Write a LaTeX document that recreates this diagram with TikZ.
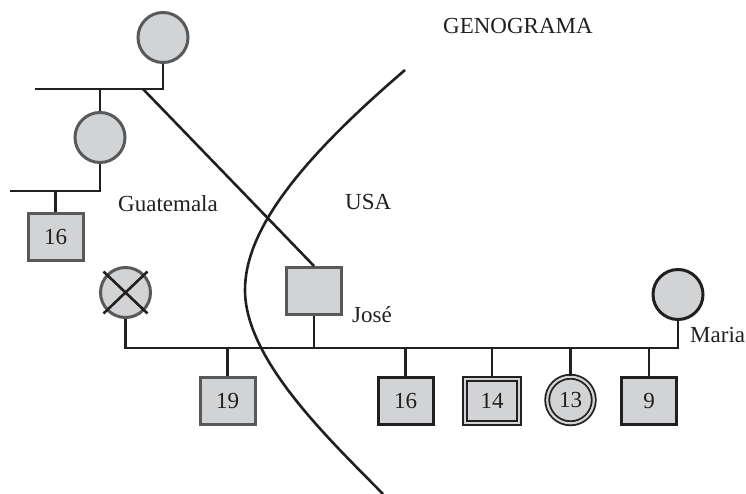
\documentclass[tikz,border=0pt]{standalone}
\usepackage{fontspec}
\setmainfont{Liberation Serif}
\definecolor{shapeFill}{HTML}{D1D3D4}
\definecolor{borderGrey}{HTML}{58595B}
\definecolor{inkDark}{HTML}{231F20}

\begin{document}
\begin{tikzpicture}
[x=1pt,y=-1pt,font=\fontsize{23}{27}\selectfont,text=inkDark,
  personDecorate/.style={inner sep=0pt,fill=shapeFill,line width=3pt},%
  maleDecorate/.style={personDecorate,shape=rectangle,minimum width=55pt,minimum height=47pt},%
  femaleDecorate/.style={personDecorate,shape=circle,minimum size=50pt},%
  maleGrey/.style={maleDecorate,draw=borderGrey},%
  maleBlack/.style={maleDecorate,draw=inkDark},%
  maleTwin/.style={maleDecorate,draw=inkDark,line width=1.8pt,double=shapeFill,double distance=2.2pt,minimum width=54pt,minimum height=44pt},%
  femaleGrey/.style={femaleDecorate,draw=borderGrey},%
  femaleBlack/.style={femaleDecorate,draw=inkDark},%
  femaleTwin/.style={femaleDecorate,draw=inkDark,line width=1.8pt,double=shapeFill,double distance=2.2pt,minimum size=46.6pt},%
  lineDecorate/.style={-,line width=2.6pt,draw=inkDark},%
  labelDecorate/.style={anchor=base west,inner sep=0pt}]
\useasboundingbox (0,0) rectangle (746,494);
%% border between the two countries
\draw[lineDecorate] (405,70) .. controls (300,160) and (245,230) .. (245,290)
  .. controls (245,360) and (330,440) .. (383,494);
%% persons
\foreach \nodename/\x/\y/\kind/\age in {
  gm/163/37.5/femaleGrey/{},  mo/100/137.5/femaleGrey/{},
  s16/55.5/237/maleGrey/16,   xw/125.5/292.5/femaleGrey/{},
  jose/314/291/maleGrey/{},   maria/678/294.5/femaleBlack/{},
  c19/227.5/401/maleGrey/19,  c16/405.5/401/maleBlack/16,
  c14/492/401/maleTwin/14,    c13/570.5/400/femaleTwin/13,
  c9/649/401/maleBlack/9}
{
  \node (\nodename) at (\x,\y) [\kind] {\age};
}
%% free ends of the lines
\coordinate (gmEnd) at (35,89);
\coordinate (moEnd) at (10,191);
\coordinate (joseStart) at (143,89);
\coordinate (sibLine) at (0,348);
%% edges or lines
\draw[lineDecorate] (gm.south) |- (gmEnd);
\draw[lineDecorate] (mo.north) -- (mo.north |- gmEnd);
\draw[lineDecorate] (mo.south) |- (moEnd);
\draw[lineDecorate] (s16.north) -- (s16.north |- moEnd);
\draw[lineDecorate] (joseStart) -- (jose.north);
\draw[lineDecorate] (xw.south) |- (maria.south |- sibLine) -- (maria.south);
\foreach \kid/\side in {jose/south, c19/north, c16/north, c14/north, c13/north, c9/north}
{
  \draw[lineDecorate] (\kid.\side) -- (\kid.\side |- sibLine);
}
%% deceased
\draw[lineDecorate] ([shift={(-22,-21)}]xw.center) -- ([shift={(22,21)}]xw.center);
\draw[lineDecorate] ([shift={(22,-21)}]xw.center) -- ([shift={(-22,21)}]xw.center);
%% texts
\node (title) at (443,34) [labelDecorate] {GENOGRAMA};
\node (guatemala) at (118,212) [labelDecorate] {Guatemala};
\node (usa) at (345,210) [labelDecorate] {USA};
\node (joseName) at (352,322) [labelDecorate] {José};
\node (mariaName) at (690,342) [labelDecorate] {Maria};
\end{tikzpicture}
\end{document}
